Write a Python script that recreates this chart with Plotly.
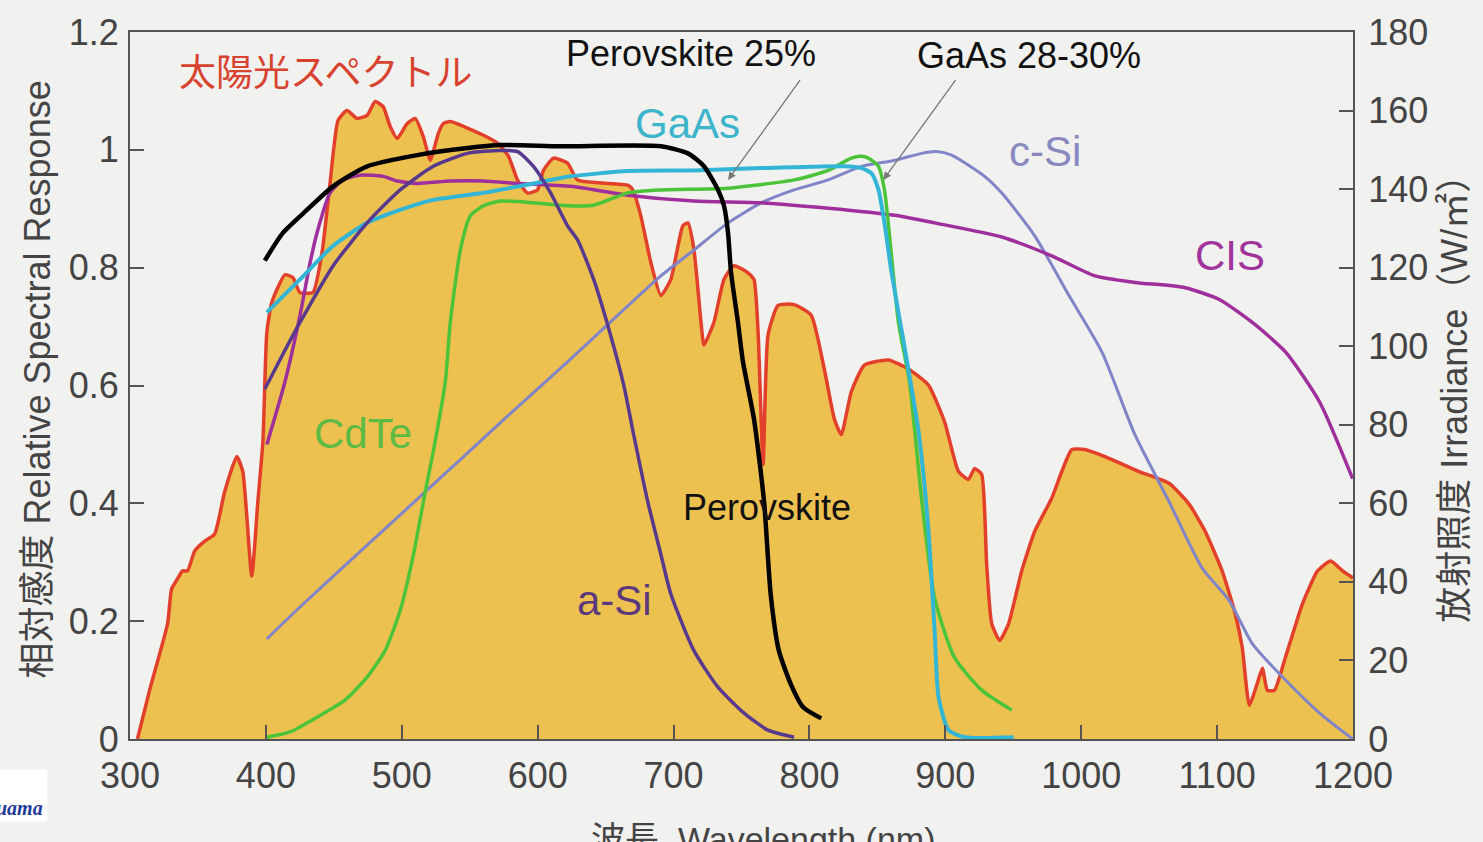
import plotly.graph_objects as go

# Solar irradiance spectrum (W/m^2, right axis)
sun_nm = [305.5, 314.4, 327.7, 330.6, 335.0, 338.7, 342.4, 347.6, 355.0, 362.3, 369.7, 378.6,
          383.0, 389.6, 394.1, 397.8, 400.7, 404.4, 414.0, 419.9, 425.0, 434.6, 441.3, 447.2,
          453.1, 459.7, 467.1, 474.5, 480.4, 486.3, 491.4, 496.6, 504.0, 509.9, 515.8, 521.0,
          526.9, 530.6, 535.7, 545.3, 560.1, 570.4, 578.5, 585.2, 592.5, 599.9, 604.3, 611.7,
          622.0, 629.4, 666.3, 670.0, 675.9, 683.3, 690.7, 698.0, 706.9, 710.6, 715.0, 720.2,
          722.4, 729.7, 737.1, 744.5, 754.8, 759.2, 762.2, 765.9, 769.5, 776.9, 788.7, 801.3,
          810.9, 818.3, 823.4, 830.8, 840.4, 858.1, 872.8, 887.6, 899.4, 909.7, 917.1, 921.5,
          926.7, 930.4, 934.1, 940.0, 946.6, 956.2, 965.8, 978.3, 985.7, 993.1, 1002.7, 1017.4,
          1042.5, 1064.6, 1079.4, 1091.2, 1103.7, 1113.3, 1118.5, 1123.7, 1129.6, 1133.3, 1137.0,
          1142.2, 1150.3, 1162.8, 1173.9, 1183.5, 1192.3, 1200.0]
sun_w = [0.0, 12.4, 29.4, 38.2, 40.8, 42.8, 42.8, 47.9, 50.4, 52.2, 63.0, 71.9,
         68.1, 41.5, 60.5, 75.7, 103.6, 111.2, 118.2, 117.5, 113.7, 113.7, 123.8, 141.5,
         157.5, 160.0, 158.0, 158.8, 162.3, 161.0, 156.0, 152.9, 156.7, 158.0, 153.4, 147.4,
         154.2, 156.7, 157.2, 156.0, 153.7, 151.7, 148.4, 142.3, 139.0, 139.8, 144.8, 147.9,
         146.6, 142.3, 141.0, 139.8, 133.2, 121.3, 112.9, 117.0, 130.7, 131.4, 124.6, 106.1,
         100.3, 106.1, 117.0, 120.5, 118.7, 117.0, 103.6, 69.9, 102.8, 110.4, 110.6, 107.9,
         94.2, 81.5, 77.5, 88.4, 95.2, 96.5, 94.2, 90.1, 80.8, 68.1, 66.1, 68.9,
         67.4, 44.6, 29.4, 25.1, 29.4, 42.8, 52.9, 61.3, 68.1, 73.7, 73.7, 71.9,
         68.1, 65.1, 59.8, 52.9, 42.8, 31.9, 23.3, 8.6, 14.2, 18.0, 12.4,
         12.4, 20.8, 34.4, 42.8, 45.3, 42.8, 41.0]

# Relative spectral response of each cell type (left axis)
perov_nm = [399.2, 412.5, 430.2, 449.4, 474.5, 511.4, 548.3, 572.6, 616.9, 690.7, 710.6, 722.4,
            732.7, 737.1, 740.1, 742.3, 747.4, 751.1, 759.2, 766.6, 771.5, 777.5, 786.5, 795.4, 808.7]
perov_r = [0.812, 0.859, 0.898, 0.938, 0.972, 0.991, 1.003, 1.008, 1.006, 1.006, 0.994, 0.972,
           0.932, 0.905, 0.859, 0.792, 0.707, 0.640, 0.543, 0.403, 0.245, 0.150, 0.092, 0.054, 0.035]

gaas_nm = [400.7, 425.1, 449.4, 474.5, 498.8, 523.2, 560.1, 597.0, 624.3, 666.3, 715.0, 764.5,
           825.7, 838.3, 845.7, 850.8, 855.2, 860.4, 870.0, 880.3, 887.6, 892.1, 895.0, 902.4,
           914.2, 950.3]
gaas_r = [0.724, 0.780, 0.837, 0.876, 0.898, 0.915, 0.927, 0.943, 0.955, 0.964, 0.965, 0.969,
          0.972, 0.969, 0.960, 0.932, 0.876, 0.792, 0.665, 0.522, 0.353, 0.184, 0.071, 0.015,
          0.003, 0.003]

cdte_nm = [400.7, 417.7, 437.6, 458.2, 474.5, 487.7, 498.8, 508.4, 517.3, 523.2, 532.0, 535.7,
           543.1, 550.5, 560.1, 572.6, 597.0, 622.0, 641.2, 666.3, 690.7, 740.1, 788.7, 813.8,
           830.8, 838.2, 843.3, 850.8, 855.2, 860.4, 865.5, 873.6, 882.5, 892.0, 906.8, 926.7, 948.9]
cdte_r = [0.003, 0.012, 0.037, 0.066, 0.105, 0.150, 0.218, 0.311, 0.420, 0.488, 0.606, 0.707,
          0.830, 0.888, 0.905, 0.913, 0.910, 0.905, 0.906, 0.927, 0.932, 0.935, 0.949, 0.965,
          0.986, 0.989, 0.986, 0.972, 0.932, 0.820, 0.707, 0.606, 0.408, 0.240, 0.138, 0.083, 0.049]

asi_nm = [399.2, 412.5, 425.1, 449.4, 474.5, 498.8, 523.2, 548.3, 572.6, 585.2, 596.9, 609.5,
          622.0, 629.4, 641.2, 653.7, 663.3, 670.7, 681.0, 690.6, 698.0, 715.0, 732.7, 751.9,
          769.5, 788.7]
asi_r = [0.594, 0.653, 0.707, 0.803, 0.876, 0.932, 0.972, 0.994, 0.999, 0.997, 0.972, 0.927,
         0.871, 0.847, 0.780, 0.685, 0.601, 0.516, 0.403, 0.314, 0.246, 0.150, 0.088, 0.044,
         0.015, 0.003]

cis_nm = [400.7, 414.0, 425.1, 432.5, 437.6, 447.2, 456.8, 469.4, 486.3, 496.6, 511.4, 535.7,
          560.1, 585.2, 624.3, 666.3, 715.0, 764.5, 813.9, 862.6, 892.1, 941.5, 978.3, 1010.1,
          1039.6, 1076.5, 1101.6, 1125.9, 1150.3, 1175.4, 1199.7]
cis_r = [0.500, 0.606, 0.719, 0.808, 0.859, 0.927, 0.949, 0.957, 0.955, 0.947, 0.943, 0.947,
         0.947, 0.943, 0.938, 0.923, 0.913, 0.910, 0.901, 0.889, 0.876, 0.852, 0.820, 0.786,
         0.775, 0.766, 0.746, 0.707, 0.657, 0.572, 0.442]

csi_nm = [400.7, 425.1, 474.5, 523.2, 572.6, 622.0, 653.7, 690.6, 715.0, 740.1, 764.5, 788.7,
          813.8, 838.2, 862.5, 882.4, 893.5, 904.6, 928.9, 941.4, 965.8, 990.9, 1015.2, 1039.6,
          1064.6, 1089.0, 1108.9, 1125.9, 1150.3, 1175.4, 1199.7]
csi_r = [0.170, 0.224, 0.329, 0.432, 0.537, 0.640, 0.708, 0.786, 0.830, 0.876, 0.910, 0.932,
         0.949, 0.972, 0.982, 0.994, 0.997, 0.991, 0.955, 0.927, 0.854, 0.753, 0.657, 0.516,
         0.403, 0.290, 0.235, 0.162, 0.100, 0.044, 0.0]

x_ticks = [300, 400, 500, 600, 700, 800, 900, 1000, 1100, 1200]
resp_ticks = [0, 0.2, 0.4, 0.6, 0.8, 1.0, 1.2]
resp_tick_text = ["0", "0.2", "0.4", "0.6", "0.8", "1", "1.2"]
irr_ticks = [0, 20, 40, 60, 80, 100, 120, 140, 160, 180]

BG = "#f1f1ef"
LATIN = "Liberation Sans, Arial, sans-serif"
CJK = "Liberation Sans, Noto Sans CJK JP, sans-serif"

fig = go.Figure()

# spectrum on the base axis (y, drawn on the right) so it sits beneath the response curves
fig.add_trace(go.Scatter(
    x=sun_nm, y=sun_w, yaxis="y", mode="lines", fill="tozeroy",
    fillcolor="#edc14f", line=dict(color="#e2402a", width=3.5, shape="spline", smoothing=0.5),
    hoverinfo="skip"))

curves = [
    (csi_nm, csi_r, "#8084c8", 3),
    (cis_nm, cis_r, "#9e2f9c", 3.5),
    (cdte_nm, cdte_r, "#4cc43a", 3.5),
    (gaas_nm, gaas_r, "#33b6d6", 4),
    (asi_nm, asi_r, "#573a8e", 3.5),
    (perov_nm, perov_r, "#000000", 4.5),
]
for xs, ys, col, w in curves:
    fig.add_trace(go.Scatter(x=xs, y=ys, yaxis="y2", mode="lines",
                             line=dict(color=col, width=w, shape="spline", smoothing=0.6),
                             hoverinfo="skip"))

labels = [
    ("太陽光スペクトル", 443.5, 1.129, "#d8432f", 37),
    ("Perovskite 25%", 712.7, 1.163, "#111111", 36),
    ("GaAs 28-30%", 961.4, 1.160, "#111111", 36),
    ("GaAs", 710.6, 1.045, "#3cb4cc", 42),
    ("c-Si", 973.2, 0.997, "#8a88c0", 42),
    ("CIS", 1109.7, 0.820, "#a0349c", 42),
    ("CdTe", 471.5, 0.518, "#5cba45", 42),
    ("Perovskite", 768.8, 0.393, "#111111", 36),
    ("a-Si", 656.7, 0.235, "#5a3a7c", 42),
]
for txt, lx, ly, col, sz in labels:
    fig.add_annotation(x=lx, y=ly, xref="x", yref="y2", text=txt, showarrow=False,
                       font=dict(family=CJK, size=sz, color=col))

# pointer arrows from the efficiency captions
for tail, tip in [((793.9, 1.121), (740.1, 0.949)), ((908.3, 1.121), (854.4, 0.949))]:
    fig.add_annotation(x=tip[0], y=tip[1], ax=tail[0], ay=tail[1], xref="x", yref="y2",
                       axref="x", ayref="y2", text="", showarrow=True, arrowhead=2,
                       arrowsize=1.2, arrowwidth=1.3, arrowcolor="#777777")

# axis titles
fig.add_annotation(x=-0.0757, y=0.509, xref="paper", yref="paper", textangle=-90,
                   xanchor="center", yanchor="middle",
                   text="相対感度 Relative Spectral Response", showarrow=False,
                   font=dict(family=CJK, size=36, color="#444444"))
fig.add_annotation(x=1.0835, y=0.494, xref="paper", yref="paper", textangle=-90,
                   xanchor="center", yanchor="middle",
                   text="放射照度 Irradiance（W/㎡）", showarrow=False,
                   font=dict(family=CJK, size=36, color="#444444"))
fig.add_annotation(x=0.518, y=-0.112, xref="paper", yref="paper", yanchor="top",
                   xanchor="center",
                   text="波長  Wavelength (nm)", showarrow=False,
                   font=dict(family=CJK, size=34, color="#444444"))

# small credit box in the lower-left corner
fig.add_shape(type="rect", xref="paper", yref="paper", x0=-0.1067, x1=-0.0675,
              y0=-0.1167, y1=-0.0436, fillcolor="white", line=dict(width=0), layer="below")
fig.add_annotation(x=-0.0695, y=-0.098, xref="paper", yref="paper", xanchor="right",
                   yanchor="middle", text="<b><i>uama</i></b>", showarrow=False,
                   font=dict(family="Liberation Serif, serif", size=20, color="#1f3a9a"))

axis_common = dict(showline=True, linecolor="#555555", linewidth=2, ticks="inside",
                   ticklen=14, tickwidth=1.6, tickcolor="#555555", showgrid=False,
                   zeroline=False, tickfont=dict(family=LATIN, size=36, color="#444444"))

fig.update_layout(
    width=1483, height=842,
    margin=dict(l=130, r=130, t=28, b=103),
    paper_bgcolor=BG, plot_bgcolor=BG,
    showlegend=False,
    xaxis=dict(range=[300, 1200], tickvals=x_ticks, mirror=True,
               ticklabelstandoff=4, **axis_common),
    yaxis=dict(range=[0, 180], tickvals=irr_ticks, side="right",
               ticklabelstandoff=6, **axis_common),
    yaxis2=dict(range=[0, 1.2], tickvals=resp_ticks, ticktext=resp_tick_text,
                overlaying="y", side="left", ticklabelstandoff=2, **axis_common),
)

fig.write_html("out.html")
